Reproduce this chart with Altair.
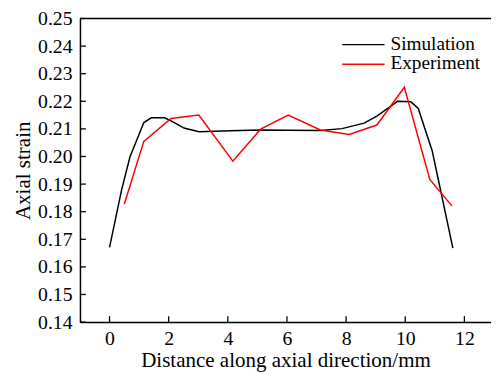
import altair as alt
import pandas as pd

# ---- data ----
sim_x = [0, 0.41, 0.69, 1.16, 1.41, 1.86, 2.08, 2.52, 3.02, 4.08, 5.08, 6.0, 7.13,
         7.86, 8.61, 9.04, 9.74, 10.19, 10.44, 10.91, 11.24, 11.61]
sim_y = [0.1671, 0.188, 0.1998, 0.2123, 0.2140, 0.2140, 0.2129, 0.2103, 0.2090, 0.2093,
         0.2096, 0.2095, 0.2094, 0.2101, 0.2121, 0.2146, 0.2200, 0.2198, 0.2174, 0.2021,
         0.1855, 0.1668]
exp_x = [0.5, 1.16, 2.08, 3.02, 4.17, 5.11, 6.04, 7.13, 8.1, 9.04, 9.97, 10.83, 11.58]
exp_y = [0.1828, 0.2055, 0.2138, 0.2150, 0.1983, 0.2099, 0.2150, 0.2096, 0.2080,
         0.2114, 0.2251, 0.1917, 0.1821]
series_names = ["Simulation", "Experiment"]
series_colors = ["#000000", "#ff0000"]
x_ticks = [0, 2, 4, 6, 8, 10, 12]
y_ticks = [0.14, 0.15, 0.16, 0.17, 0.18, 0.19, 0.20, 0.21, 0.22, 0.23, 0.24, 0.25]

rows = [{"x": a, "y": b, "series": "Simulation", "ord": i} for i, (a, b) in enumerate(zip(sim_x, sim_y))]
rows += [{"x": a, "y": b, "series": "Experiment", "ord": i} for i, (a, b) in enumerate(zip(exp_x, exp_y))]
df = pd.DataFrame(rows)

W, H = 417, 308
FONT = "Liberation Serif"

xscale = alt.Scale(domain=[-1, 12.9], nice=False, zero=False)
yscale = alt.Scale(domain=[0.14, 0.25], nice=False, zero=False)
common = dict(labelFont=FONT, labelFontSize=20, labelColor="black",
              titleFont=FONT, titleFontSize=21.3, titleFontWeight="normal", titleColor="black",
              domainColor="black", domainWidth=1.5, grid=False, ticks=False, tickSize=0)
xaxis = alt.Axis(values=x_ticks, format="d", title="Distance along axial direction/mm",
                 labelPadding=7, titlePadding=1, **common)
yaxis = alt.Axis(values=y_ticks, format=".2f", title="Axial strain",
                 labelPadding=8, titlePadding=4, **common)

lines = alt.Chart(df).mark_line(strokeWidth=1.5).encode(
    x=alt.X("x:Q", scale=xscale, axis=xaxis),
    y=alt.Y("y:Q", scale=yscale, axis=yaxis),
    color=alt.Color("series:N",
                    scale=alt.Scale(domain=series_names, range=series_colors),
                    legend=None),
    order="ord:Q",
)

xt = alt.Chart(pd.DataFrame({"x": x_ticks})).mark_rule(color="black", strokeWidth=1.3).encode(
    x=alt.X("x:Q", scale=xscale, axis=xaxis),
    y=alt.value(H), y2=alt.value(H - 6),
)
yt = alt.Chart(pd.DataFrame({"y": y_ticks})).mark_rule(color="black", strokeWidth=1.3).encode(
    y=alt.Y("y:Q", scale=yscale, axis=yaxis),
    x=alt.value(0), x2=alt.value(6),
)
top = alt.Chart(pd.DataFrame({"a": [0]})).mark_rule(color="black", strokeWidth=1.5).encode(
    y=alt.value(0), x=alt.value(0), x2=alt.value(W),
)

# manual legend (one row per series)
legend_layers = []
for i, (name, col) in enumerate(zip(series_names, series_colors)):
    yy = 26.5 + 20 * i
    d = pd.DataFrame({"label": [name]})
    legend_layers.append(alt.Chart(d).mark_rule(color=col, strokeWidth=1.5).encode(
        x=alt.value(266), x2=alt.value(309), y=alt.value(yy)))
    legend_layers.append(alt.Chart(d).mark_text(
        font=FONT, fontSize=19.5, color="black", align="left", baseline="middle").encode(
        x=alt.value(315), y=alt.value(yy - 1), text="label:N"))

chart = alt.layer(lines, xt, yt, top, *legend_layers).properties(
    width=W, height=H,
    autosize=alt.AutoSizeParams(type="none"),
    padding={"left": 73, "top": 8, "right": 0, "bottom": 49},
).configure_view(stroke=None)

chart.save("out.html", embed_options={"renderer": "svg", "actions": False})
